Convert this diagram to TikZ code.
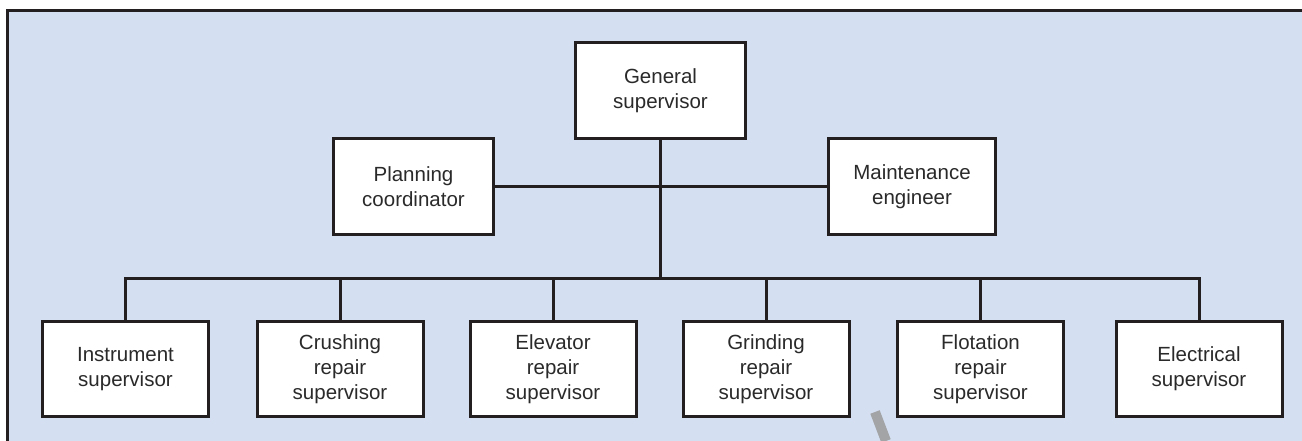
\documentclass[tikz,border=0pt]{standalone}
\usepackage{fontspec}
\setmainfont{Liberation Sans}
\definecolor{bgblue}{HTML}{D4E0F2}
\definecolor{linec}{HTML}{231F20}
\definecolor{textc}{HTML}{2B2A2A}
\definecolor{markgray}{HTML}{A3A4A6}
\tikzset{
  orgbox/.style={draw=linec, line width=3pt, fill=white, align=center, inner sep=0pt,
    minimum width=166pt, minimum height=95pt, text=textc,
    font=\fontsize{20.5}{25}\selectfont},
  link/.style={draw=linec, line width=3pt}
}
\begin{document}
\begin{tikzpicture}[x=1pt,y=-1pt]
\useasboundingbox (0,0) rectangle (1302,441);
\fill[bgblue] (7.5,10.5) rectangle (1302,441);
\draw[linec, line width=3pt] (7.5,441) -- (7.5,10.5) -- (1302,10.5);
% slash mark
\draw[markgray, line width=10pt] (875,412) -- (886,441);

\node[orgbox, minimum width=170pt, minimum height=96pt] (gen) at (660.5,90.5) {General\\supervisor};
\node[orgbox, minimum width=160pt, minimum height=96pt] (plan) at (413.5,186.5) {Planning\\coordinator};
\node[orgbox, minimum width=167pt, minimum height=96pt] (maint) at (912,186.5) {Maintenance\\engineer};

\node[orgbox] (instr) at (125.5,369) {Instrument\\supervisor};
\node[orgbox] (crush) at (340,369) {Crushing\\repair\\supervisor};
\node[orgbox] (elev) at (553,369) {Elevator\\repair\\supervisor};
\node[orgbox] (grind) at (766,369) {Grinding\\repair\\supervisor};
\node[orgbox] (flot) at (980.5,369) {Flotation\\repair\\supervisor};
\node[orgbox] (elec) at (1199,369) {Electrical\\supervisor};

\coordinate (bus) at (660,278);
\coordinate (mid) at (660,186.5);
\draw[link] (gen.south -| bus) -- (bus);
\draw[link] (plan.east) -- (maint.west);
\draw[link] (instr.north) |- (bus) -| (elec.north);
\foreach \n in {crush,elev,grind,flot}{
  \draw[link] (\n.north) -- (\n.north |- bus);
}
\end{tikzpicture}
\end{document}
